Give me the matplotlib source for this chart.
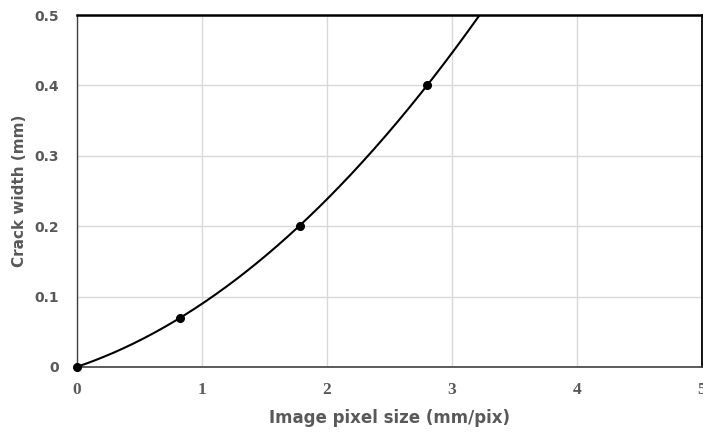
import numpy as np
import matplotlib
matplotlib.use("Agg")
import matplotlib.pyplot as plt

# Data
pixel_size = [0.0, 0.82, 1.78, 2.80]      # mm/pix
crack_width = [0.0, 0.07, 0.20, 0.40]     # mm
x_ticks = [0, 1, 2, 3, 4, 5]
y_ticks = [0, 0.1, 0.2, 0.3, 0.4, 0.5]
y_tick_labels = ["0", "0.1", "0.2", "0.3", "0.4", "0.5"]

grey = "#595959"

fig = plt.figure(figsize=(7.03, 4.33), dpi=100)
ax = fig.add_axes([77/703, 1-367/433, (702-77)/703, (367-15)/433])

# Polynomial (order 2) trendline through the data, like the spreadsheet trendline
coef = np.polyfit(pixel_size, crack_width, 2)
xs = np.linspace(0, 3.5, 300)
ax.plot(xs, np.polyval(coef, xs), color="black", lw=1.5, zorder=3)
ax.plot(pixel_size, crack_width, "o", color="black", ms=5.5, zorder=4, clip_on=False)

ax.set_xlim(0, 5)
ax.set_ylim(0, 0.5)
ax.set_xticks(x_ticks)
ax.set_yticks(y_ticks)
ax.set_yticklabels(y_tick_labels)

for lab in ax.get_xticklabels():
    lab.set_fontfamily("Liberation Serif")
    lab.set_fontweight("bold")
    lab.set_fontsize(12.5)
    lab.set_color(grey)
for lab in ax.get_yticklabels():
    lab.set_fontfamily("DejaVu Sans")
    lab.set_fontweight("bold")
    lab.set_fontsize(10)
    lab.set_color(grey)

ax.tick_params(axis="both", length=0)
ax.tick_params(axis="x", pad=11)
ax.tick_params(axis="y", pad=13)

ax.grid(True, color="#d9d9d9", lw=1)
ax.set_axisbelow(True)

ax.spines["top"].set_color("black")
ax.spines["top"].set_linewidth(1.8)
ax.spines["right"].set_color("black")
ax.spines["right"].set_linewidth(1.3)
ax.spines["left"].set_color("#404040")
ax.spines["left"].set_linewidth(1.0)
ax.spines["bottom"].set_color("#404040")
ax.spines["bottom"].set_linewidth(1.2)

ax.set_xlabel("Image pixel size (mm/pix)", fontsize=12, fontweight="bold",
              color=grey, family="DejaVu Sans", labelpad=8)
ax.set_ylabel("Crack width (mm)", fontsize=11, fontweight="bold",
              color=grey, family="DejaVu Sans", labelpad=5)

fig.savefig("out.png", dpi=100)
